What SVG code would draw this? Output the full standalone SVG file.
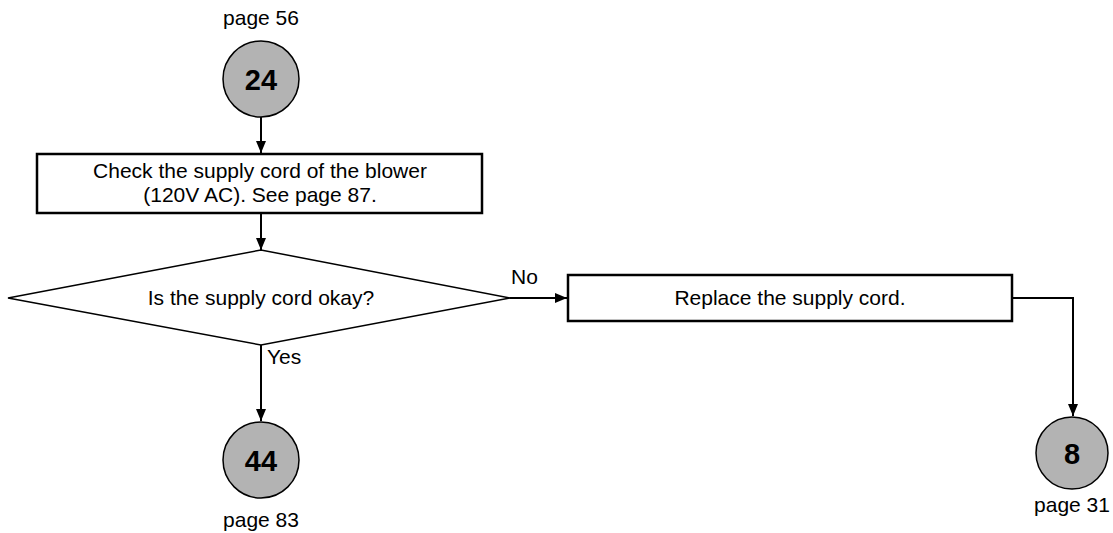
<svg xmlns="http://www.w3.org/2000/svg" width="1113" height="533" viewBox="0 0 1113 533">
<defs>
<style>
text{font-family:"Liberation Sans",Arial,sans-serif;fill:#000}
.t{font-size:21px;text-anchor:middle}
.n{font-size:29px;font-weight:bold;text-anchor:middle}
.c{fill:#b3b3b3;stroke:#000;stroke-width:1.5}
.b{fill:#fff;stroke:#000;stroke-width:2.5}
.d{fill:#fff;stroke:#000;stroke-width:1.5}
.l{fill:none;stroke:#000;stroke-width:2}
</style>
<marker id="ah" viewBox="0 0 12 10" refX="12" refY="5" markerWidth="12" markerHeight="10" markerUnits="userSpaceOnUse" orient="auto">
<path d="M0,0 L12,5 L0,10 z" fill="#000"/>
</marker>
</defs>
<g id="connectors">
<line class="l" x1="261" y1="117" x2="261" y2="153" marker-end="url(#ah)"/>
<line class="l" x1="261" y1="213" x2="261" y2="250" marker-end="url(#ah)"/>
<line class="l" x1="510" y1="298" x2="567" y2="298" marker-end="url(#ah)"/>
<line class="l" x1="261" y1="345" x2="261" y2="421" marker-end="url(#ah)"/>
<polyline class="l" points="1012,298 1073,298 1073,416" marker-end="url(#ah)"/>
<text x="511" y="284" style="font-size:21px">No</text>
<text x="267" y="364" style="font-size:21px">Yes</text>
</g>
<g id="n24">
<text class="t" x="261" y="25">page 56</text>
<circle class="c" cx="261" cy="79" r="38"/>
<text class="n" x="261" y="90">24</text>
</g>
<g id="check">
<rect class="b" x="37" y="154" width="445" height="59"/>
<text class="t" x="260" y="178">Check the supply cord of the blower</text>
<text class="t" x="260" y="202">(120V AC). See page 87.</text>
</g>
<g id="decision">
<polygon class="d" points="8,298 261,250 510,298 261,345"/>
<text class="t" x="261" y="305">Is the supply cord okay?</text>
</g>
<g id="replace">
<rect class="b" x="568" y="275" width="444" height="46"/>
<text class="t" x="790" y="305">Replace the supply cord.</text>
</g>
<g id="n44">
<circle class="c" cx="261" cy="460" r="38"/>
<text class="n" x="261" y="471">44</text>
<text class="t" x="261" y="527">page 83</text>
</g>
<g id="n8">
<circle class="c" cx="1072" cy="453" r="36"/>
<text class="n" x="1072" y="464">8</text>
<text class="t" x="1072" y="512">page 31</text>
</g>
</svg>
